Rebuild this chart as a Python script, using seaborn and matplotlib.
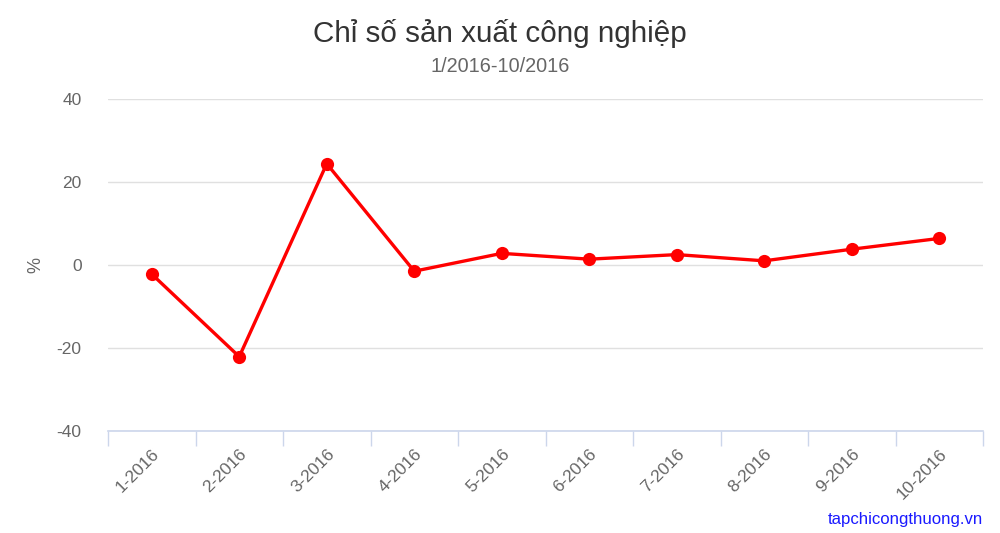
import numpy as np
import pandas as pd
from matplotlib import pyplot as plt
from matplotlib.ticker import FixedLocator
import seaborn as sns

months = ['1-2016', '2-2016', '3-2016', '4-2016', '5-2016',
          '6-2016', '7-2016', '8-2016', '9-2016', '10-2016']
values = [-2.2, -22.1, 24.4, -1.5, 2.8, 1.4, 2.5, 1.0, 3.8, 6.4]
y_ticks = [-40, -20, 0, 20, 40]

df = pd.DataFrame({'Month': months, 'Value': values})

sns.set_style('white')
plt.rcParams['font.family'] = ['Liberation Sans', 'DejaVu Sans']

fig = plt.figure(figsize=(10, 5.33), dpi=100)
ax = fig.add_axes([0.108, 0.1914, 0.875, 0.6229])

sns.lineplot(data=df, x='Month', y='Value', color='#ff0000', linewidth=2.4,
             marker='o', markersize=9.5, markeredgewidth=0, ax=ax, zorder=3)

ax.set_xlim(-0.5, len(months) - 0.5)
ax.set_ylim(-40, 40)
ax.set_yticks(y_ticks)
ax.set_yticklabels([str(t) for t in y_ticks])
ax.yaxis.grid(True, color='#e0e0e0', linewidth=1)
ax.set_axisbelow(True)

for s in ['top', 'right', 'left']:
    ax.spines[s].set_visible(False)
ax.spines['bottom'].set_color('#ccd6eb')
ax.spines['bottom'].set_linewidth(1.2)

# vạch chia giữa các tháng
ax.xaxis.set_minor_locator(FixedLocator(np.arange(-0.5, len(months), 1.0)))
ax.tick_params(axis='x', which='minor', bottom=True, length=11, color='#ccd6eb', width=1)
ax.tick_params(axis='x', which='major', length=0, pad=11)
ax.tick_params(axis='y', length=0, pad=19)
plt.setp(ax.get_xticklabels(), rotation=45, ha='right', rotation_mode='anchor',
         fontsize=12.5, color='#666666')
plt.setp(ax.get_yticklabels(), fontsize=12.5, color='#666666')

ax.set_xlabel('')
ax.set_ylabel('%', fontsize=13, color='#666666')
ax.yaxis.set_label_coords(-0.073, 0.5)

fig.text(0.5, 0.938, 'Chỉ số sản xuất công nghiệp', ha='center', va='center',
         fontsize=21.3, color='#333333')
fig.text(0.5, 0.876, '1/2016-10/2016', ha='center', va='center',
         fontsize=14.3, color='#666666')
fig.text(0.983, 0.026, 'tapchicongthuong.vn', ha='right', va='center',
         fontsize=12.1, color='#1a1aff')

fig.savefig('out.png', dpi=100)
